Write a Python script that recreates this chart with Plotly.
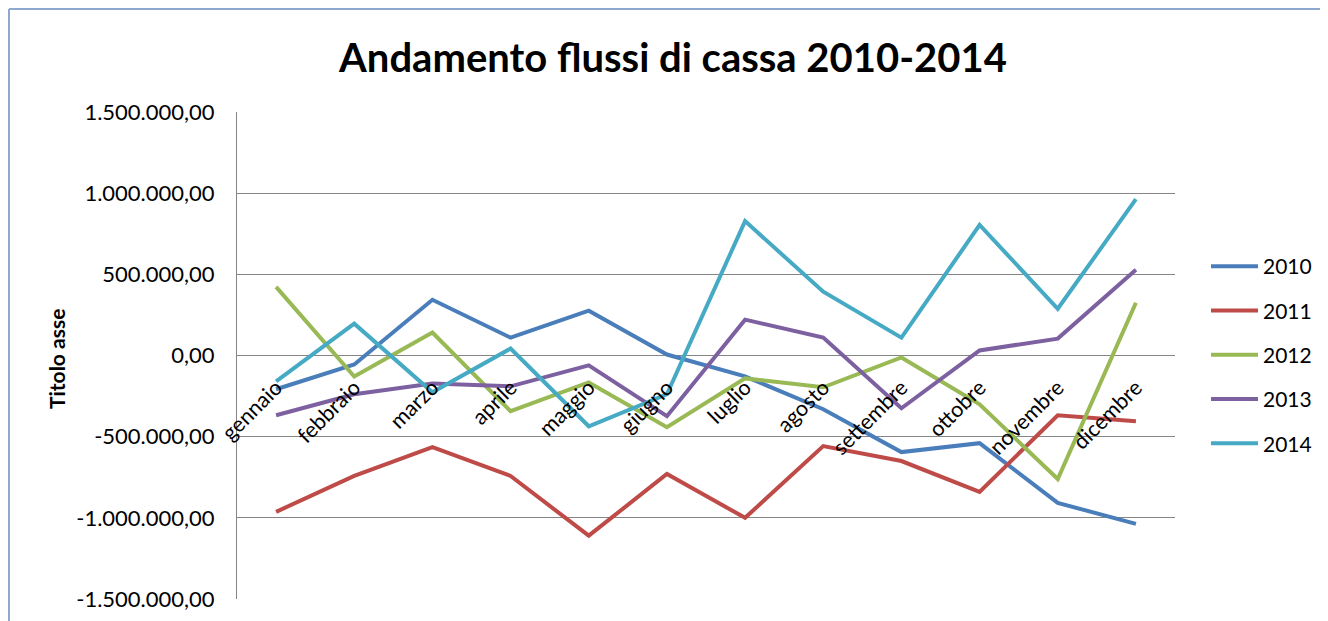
import plotly.graph_objects as go

mesi = ["gennaio", "febbraio", "marzo", "aprile", "maggio", "giugno",
        "luglio", "agosto", "settembre", "ottobre", "novembre", "dicembre"]

v2010 = [-208000, -55000, 343000, 110000, 276000, 6000,
         -129000, -331000, -595000, -540000, -908000, -1037000]
v2011 = [-963000, -742000, -565000, -742000, -1110000, -730000,
         -1000000, -558000, -650000, -840000, -368000, -405000]
v2012 = [423000, -129000, 141000, -343000, -166000, -442000,
         -141000, -196000, -12000, -301000, -761000, 325000]
v2013 = [-368000, -239000, -172000, -190000, -61000, -374000,
         221000, 110000, -325000, 31000, 104000, 528000]
v2014 = [-160000, 196000, -227000, 43000, -436000, -239000,
         828000, 393000, 110000, 804000, 288000, 963000]

y_tick_vals = [-1500000, -1000000, -500000, 0, 500000, 1000000, 1500000]
y_tick_text = ["-1.500.000,00", "-1.000.000,00", "-500.000,00", "0,00",
               "500.000,00", "1.000.000,00", "1.500.000,00"]

serie = [("2010", v2010, "#4A7EBB"), ("2011", v2011, "#BE4B48"),
         ("2012", v2012, "#98B954"), ("2013", v2013, "#7D60A0"),
         ("2014", v2014, "#46AAC5")]

FONT = "Lato"
OFF = 8  # default page body margin

fig = go.Figure()
for nome, vals, col in serie:
    fig.add_trace(go.Scatter(x=mesi, y=vals, name=nome, mode="lines",
                             legendgroup=nome,
                             line=dict(color=col, width=4)))

W, H = 1328, 621
L, R, T, B = 237 - OFF, 1175 - OFF, 112 - OFF, 599 - OFF
PW, PH = R - L, B - T


def px(xp):
    return (xp - OFF - L) / PW


def py(yp):
    return 1 - (yp - OFF - T) / PH


fig.update_layout(
    width=W, height=H,
    margin=dict(l=L, r=W - R, t=T, b=H - B, autoexpand=False),
    paper_bgcolor="white", plot_bgcolor="white",
    font=dict(family=FONT, color="#000000"),
    title=dict(text="<b>Andamento flussi di cassa 2010-2014</b>",
               x=(673 - OFF) / W, xanchor="center", xref="container",
               y=1 - (58 - OFF) / H, yanchor="middle", yref="container",
               font=dict(family=FONT, size=40, color="#000000")),
    showlegend=True,
    legend=dict(x=px(1206), xanchor="left",
                y=py(246), yanchor="top",
                font=dict(family=FONT, size=21, color="#000000"),
                tracegroupgap=14, itemwidth=47,
                bgcolor="rgba(0,0,0,0)"),
    xaxis=dict(type="category", anchor="free", position=0.5,
               showgrid=False, showline=False, zeroline=False,
               ticks="outside", ticklen=10, tickcolor="rgba(0,0,0,0)",
               tickangle=-45,
               tickfont=dict(family=FONT, size=21.5, color="#000000"),
               range=[-0.5, 11.5]),
    yaxis=dict(range=[-1500000, 1500000],
               tickmode="array", tickvals=y_tick_vals, ticktext=y_tick_text,
               showgrid=True, gridcolor="#868686", gridwidth=1,
               zeroline=False,
               showline=True, linecolor="#868686", linewidth=1,
               ticks="", ticklabelstandoff=17,
               tickfont=dict(family=FONT, size=22, color="#000000")),
    annotations=[dict(text="<b>Titolo asse</b>", textangle=-90,
                      xref="paper", yref="paper",
                      x=px(56), y=py(359),
                      xanchor="center", yanchor="middle",
                      showarrow=False,
                      font=dict(family=FONT, size=21, color="#000000"))],
    shapes=[
        dict(type="line", xref="paper", yref="paper",
             x0=px(9), x1=px(W + 20),
             y0=py(9), y1=py(9),
             line=dict(color="#8EA9CF", width=2)),
        dict(type="line", xref="paper", yref="paper",
             x0=px(9), x1=px(9),
             y0=py(9), y1=py(H + 20),
             line=dict(color="#8EA9CF", width=2)),
    ],
)

fig.write_html("out.html")
